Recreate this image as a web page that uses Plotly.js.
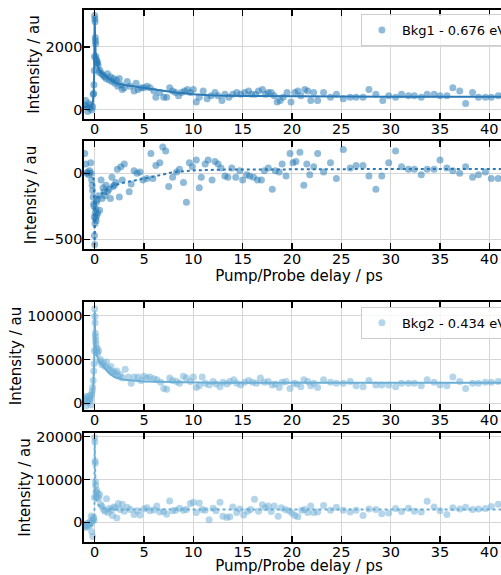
<!DOCTYPE html>
<html>
<head>
<meta charset="utf-8">
<script src="https://cdn.plot.ly/plotly-3.0.1.min.js"></script>
<style>html,body{margin:0;padding:0;overflow:hidden;background:#fff;}#chart{width:534px;height:575px;}</style>
</head>
<body>
<div id="chart"></div>
<script>
// ---- Panel 1: Bkg1 data ----
const bkg1X = [-1.0,-0.9,-0.8,-0.7,-0.6,-0.5,-0.4,-0.3,-0.2,-0.15,-0.1,-0.07,-0.04,-0.02,0.0,0.02,0.04,0.06,0.08,0.1,0.13,0.16,0.2,0.25,0.3,0.35,0.45,0.55,0.7,0.85,1.0,1.15,1.3,1.45,1.6,1.75,1.9,2.05,2.2,2.35,2.5,2.65,2.8,3.0,3.3,3.6,4.0,4.2,4.4,4.7,5.0,5.3,5.6,6.0,6.2,6.6,7.0,7.3,7.6,7.9,8.2,8.5,8.8,9.1,9.4,9.7,10.0,10.3,10.6,11.0,11.4,11.8,12.2,12.5,12.9,13.2,13.6,14.0,14.4,14.8,15.2,15.6,15.9,16.3,16.6,17.0,17.3,17.6,17.9,18.2,18.5,18.8,19.1,19.5,19.9,20.3,20.6,20.9,21.3,21.6,21.9,22.2,22.6,23.2,23.9,24.5,25.2,25.9,26.5,27.2,27.8,28.5,29.2,29.8,30.5,31.1,31.8,32.4,33.1,33.7,34.4,35.0,35.7,36.3,37.0,37.6,38.3,38.9,39.6,40.2,40.9,41.5];
const bkg1Y = [150,300,100,-50,200,50,150,0,100,500,520,800,1250,1700,3000,2900,2800,2300,2200,2100,1700,1600,1500,1550,1480,1400,1200,1250,1150,1100,1050,1000,1150,950,1050,900,1000,850,950,750,1000,800,650,700,900,750,600,850,650,700,700,750,700,600,400,550,400,400,700,600,550,450,550,600,650,550,650,250,400,600,350,450,550,450,300,500,400,500,550,500,550,600,500,500,600,650,500,550,550,450,250,300,400,550,250,550,600,450,650,600,300,550,300,550,400,500,350,400,400,400,650,500,300,450,400,500,450,450,400,500,500,450,450,700,600,200,550,400,400,400,450,500];
const fit1X = [-1.08,-0.5,-0.3,-0.2,-0.1,-0.05,0,0.05,0.1,0.2,0.3,0.5,0.75,1,1.5,2,3,4,5,6,8,10,12,15,20,25,30,40,42.5];
const fit1Y = [90,90,110,200,500,1200,2950,2200,1800,1500,1400,1250,1160,1100,980,870,790,740,700,650,560,500,460,440,425,422,420,420,420];

// ---- Panel 2: Bkg1 residual ----
const res1X = [-1.0,-0.9,-0.8,-0.7,-0.6,-0.5,-0.4,-0.35,-0.3,-0.25,-0.2,-0.15,-0.1,-0.07,-0.04,-0.02,0.0,0.03,0.06,0.09,0.12,0.15,0.18,0.22,0.26,0.3,0.4,0.5,0.65,0.75,0.85,0.95,1.05,1.15,1.3,1.45,1.6,1.75,1.85,2.0,2.15,2.3,2.5,2.65,2.8,3.0,3.5,3.7,4.0,4.3,4.6,4.9,5.3,5.7,5.9,6.2,6.6,6.9,7.2,7.5,7.9,8.3,8.6,9.0,9.3,9.6,9.9,10.3,10.6,10.8,11.2,11.5,11.9,12.2,12.5,12.8,13.2,13.5,13.9,14.3,14.7,15.0,15.4,15.7,16.1,16.5,16.9,17.2,17.6,18.0,18.3,18.7,19.0,19.4,19.8,20.1,20.4,20.8,21.2,21.5,21.8,22.2,22.6,23.2,23.9,24.5,25.2,25.9,26.5,27.2,27.8,28.5,29.1,29.8,30.5,31.1,31.8,32.4,33.1,33.7,34.4,35.0,35.7,36.3,37.0,37.6,38.3,38.9,39.6,40.2,40.9,41.5];
const res1Y = [150,70,0,10,-10,20,80,0,-50,-90,-130,-180,-230,-250,-330,-470,-540,-380,-300,-340,-270,-360,-220,-320,-200,-300,-170,-280,-50,-190,-110,-140,-170,-90,-140,-120,-190,-30,-100,-90,-70,30,-180,50,-50,70,-140,-80,20,0,10,-50,-40,150,-40,60,80,200,170,-100,-30,10,30,-70,-220,80,50,100,-110,-30,70,100,-50,90,70,40,-20,-30,40,-30,20,-50,-10,-20,-30,-50,-50,20,40,-120,20,10,70,-20,150,80,90,160,-90,70,-10,50,150,10,80,-40,180,40,60,60,-20,-120,-20,80,170,50,30,30,-10,30,30,100,40,20,0,50,-30,-10,10,-40,-40,-30];
const fit2X = [-1.08,-0.3,-0.15,-0.08,-0.04,0,0.03,0.06,0.1,0.3,0.6,1,1.5,2,3,4,5,6,8,10,13,20,30,42.5];
const fit2Y = [0,0,-20,-100,-300,-540,-380,-260,-210,-180,-160,-135,-110,-90,-70,-55,-45,-25,10,22,28,32,33,33];

// ---- Panel 3: Bkg2 data ----
const bkg2X = [-1.0,-0.95,-0.9,-0.85,-0.8,-0.7,-0.6,-0.5,-0.45,-0.4,-0.35,-0.3,-0.25,-0.2,-0.15,-0.1,-0.06,-0.03,0.0,0.02,0.04,0.06,0.08,0.1,0.13,0.16,0.2,0.25,0.3,0.4,0.5,0.6,0.75,0.9,1.05,1.2,1.35,1.5,1.65,1.8,1.95,2.1,2.25,2.4,2.6,2.8,3.1,3.4,3.7,4.0,4.4,4.7,5.0,5.3,5.6,6.0,6.3,6.7,7.0,7.3,7.6,7.9,8.3,8.6,9.0,9.3,9.7,10.0,10.3,10.6,10.9,11.2,11.6,12.0,12.3,12.7,13.0,13.4,13.7,14.1,14.4,14.8,15.2,15.6,16.0,16.4,16.8,17.2,17.6,18.0,18.3,18.7,19.0,19.4,19.8,20.2,20.5,20.9,21.2,21.6,21.9,22.2,22.6,23.2,23.9,24.5,25.2,25.9,26.5,27.2,27.8,28.5,29.1,29.8,30.5,31.1,31.8,32.4,33.1,33.7,34.4,35.0,35.7,36.3,37.0,37.6,38.3,38.9,39.6,40.2,40.9,41.5];
const bkg2Y = [2000,6000,-3000,8000,4000,1000,7000,3000,9000,5000,-2000,10000,14000,18000,26000,37000,45000,60000,108000,99000,92000,80000,76000,72000,68000,62000,58000,63000,57000,60000,48000,50000,44000,46000,42000,47000,40000,38000,42000,35000,36000,34000,37000,31000,33000,29000,39000,30000,23000,30000,30000,26000,31000,29000,30000,28000,27000,24000,17000,16000,29000,26000,25000,23000,31000,29000,25000,30000,18000,20000,30000,23000,21000,25000,22000,19000,24000,22000,25000,27000,23000,21000,24000,26000,24000,23000,29000,24000,25000,21000,22000,18000,24000,25000,17000,23000,22000,19000,27000,25000,20000,23000,18000,27000,24000,23000,23000,25000,20000,19000,26000,21000,21000,21000,19000,23000,23000,23000,20000,27000,24000,21000,20000,30000,25000,17000,23000,23000,24000,24000,25000,26000];
const fit3X = [-1.08,-0.5,-0.3,-0.15,-0.05,0,0.05,0.1,0.2,0.5,0.8,1,1.5,2,3,5,8,12,20,30,42.5];
const fit3Y = [1000,1500,5000,20000,45000,105000,80000,65000,55000,47000,43000,40000,34000,30000,27000,25000,24000,23500,23400,23400,23400];

// ---- Panel 4: Bkg2 residual ----
const res2X = [-1.0,-0.95,-0.9,-0.85,-0.8,-0.7,-0.6,-0.5,-0.45,-0.4,-0.35,-0.3,-0.25,-0.2,-0.15,-0.1,-0.06,-0.03,0.0,0.02,0.04,0.06,0.08,0.1,0.13,0.16,0.2,0.25,0.3,0.4,0.5,0.6,0.75,0.9,1.05,1.2,1.35,1.5,1.65,1.8,1.95,2.1,2.25,2.4,2.6,2.8,3.0,3.3,3.6,4.0,4.3,4.6,5.0,5.3,5.6,6.0,6.3,6.6,7.0,7.3,7.6,7.9,8.2,8.6,9.0,9.3,9.7,10.0,10.3,10.6,10.9,11.2,11.6,12.0,12.3,12.7,13.0,13.4,13.7,14.0,14.4,14.7,15.1,15.5,15.8,16.2,16.6,17.0,17.3,17.6,17.9,18.2,18.6,18.9,19.3,19.7,20.0,20.3,20.6,21.0,21.3,21.6,21.9,22.2,22.6,23.2,23.9,24.5,25.2,25.9,26.5,27.2,27.8,28.5,29.1,29.8,30.5,31.1,31.8,32.4,33.1,33.7,34.4,35.0,35.7,36.3,37.0,37.6,38.3,38.9,39.6,40.2,40.9,41.5];
const res2Y = [-1000,-600,-1200,-400,-800,-200,-900,-500,200,-300,1500,-2200,300,-3300,800,1200,500,5800,19800,18800,14300,13800,9500,8600,7000,6000,7500,5800,6800,5700,6500,4200,3700,3000,2600,5500,2300,3300,2900,1600,3600,3400,1000,4400,3000,4200,2600,3500,3000,1800,2700,1700,3100,3400,2700,2900,3800,2400,2500,1900,5000,2700,2800,3300,2800,3000,4400,4700,2300,4500,3000,2800,600,3300,2700,4700,1400,1100,1300,3600,2300,3100,1700,2600,3000,5400,2600,4100,3400,3800,2500,3800,1400,3400,3000,2700,2200,1600,1300,2800,3000,2300,3800,2300,2400,3900,2800,3500,2800,2400,2800,1600,3100,3000,2000,2200,3200,2500,3300,2600,2400,4900,3600,2700,1800,3400,3100,3500,3000,3100,3200,3700,4200,4100];
const fit4X = [-1.08,-0.2,-0.05,-0.02,0,0.03,0.06,0.1,0.2,0.4,0.7,1,2,5,20,42.5];
const fit4Y = [-700,-700,-500,2000,19500,12000,8000,6000,4800,4000,3500,3200,3000,3000,3000,3000];

const legendNames = ["Bkg1 - 0.676 eV", "Bkg2 - 0.434 eV"];
const xTickVals = [0,5,10,15,20,25,30,35,40];

const c1 = '#1f77b4', c1line = '#2a7ab8';
const c2 = '#6baed6', c2line = '#6baed6';

function pts(x, y, col, xa, ya, name, leg, show) {
  return {x: x, y: y, type: 'scatter', mode: 'markers', xaxis: xa, yaxis: ya,
    marker: {color: col, size: 7, opacity: 0.5, line: {width: 0}},
    name: name, showlegend: show, legend: leg, cliponaxis: true};
}
function fitl(x, y, col, xa, ya, dash) {
  return {x: x, y: y, type: 'scatter', mode: 'lines', xaxis: xa, yaxis: ya,
    line: {color: col, width: 2, dash: dash}, showlegend: false, hoverinfo: 'skip'};
}

const traces = [
  pts(bkg1X, bkg1Y, c1, 'x', 'y', legendNames[0], 'legend', true),
  fitl(fit1X, fit1Y, c1line, 'x', 'y', 'solid'),
  pts(res1X, res1Y, c1, 'x2', 'y2', 'res1', 'legend', false),
  fitl(fit2X, fit2Y, c1line, 'x2', 'y2', 'dot'),
  pts(bkg2X, bkg2Y, c2, 'x3', 'y3', legendNames[1], 'legend2', true),
  fitl(fit3X, fit3Y, c2line, 'x3', 'y3', 'solid'),
  pts(res2X, res2Y, c2, 'x4', 'y4', 'res2', 'legend', false),
  fitl(fit4X, fit4Y, c2line, 'x4', 'y4', 'dot')
];

const tickFont = {family: 'DejaVu Sans, sans-serif', size: 14.5, color: '#000'};
const titleFont = {family: 'DejaVu Sans, sans-serif', size: 15, color: '#000'};
function xax(anchor, title) {
  const a = {anchor: anchor, range: [-1.08, 42.5], tickvals: xTickVals, ticks: 'inside', ticklen: 6,
    tickwidth: 1.2, tickcolor: '#000', showline: true, linecolor: '#000', linewidth: 1.6, mirror: 'allticks',
    showgrid: true, gridcolor: '#d6d6d6', gridwidth: 1, zeroline: false, tickfont: tickFont, domain: [0, 1],
    ticklabelstandoff: -4};
  if (title) a.title = {text: title, font: titleFont, standoff: 3};
  return a;
}
function yax(anchor, dom, range, dtick) {
  return {anchor: anchor, domain: dom, range: range, dtick: dtick, tick0: 0, tickformat: 'd',
    ticks: 'inside', ticklen: 6, ticklabelstandoff: -3,
    tickwidth: 1.2, tickcolor: '#000', showline: true, linecolor: '#000', linewidth: 1.6, mirror: 'allticks',
    showgrid: true, gridcolor: '#d6d6d6', gridwidth: 1, zeroline: false, tickfont: tickFont,
    title: {text: 'Intensity / au', font: titleFont, standoff: 2}};
}

const layout = {
  width: 534, height: 575,
  margin: {l: 84, r: 20, t: 10, b: 33},
  paper_bgcolor: '#fff', plot_bgcolor: '#fff',
  font: tickFont,
  xaxis: xax('y', null),
  xaxis2: xax('y2', 'Pump/Probe delay / ps'),
  xaxis3: xax('y3', null),
  xaxis4: xax('y4', 'Pump/Probe delay / ps'),
  yaxis: yax('x', [0.7951, 1.0], [-290, 3175], 2000),
  yaxis2: yax('x2', [0.5508, 0.7538], [-573, 245], 500),
  yaxis3: yax('x3', [0.2481, 0.4511], [-7650, 115600], 50000),
  yaxis4: yax('x4', [0, 0.2049], [-4600, 20860], 10000),
  legend: {x: 0.644, xanchor: 'left', y: 0.9925, yanchor: 'top', bgcolor: 'rgba(255,255,255,0.8)',
    bordercolor: '#cccccc', borderwidth: 1, font: {family: 'DejaVu Sans, sans-serif', size: 13, color: '#000'}},
  legend2: {x: 0.644, xanchor: 'left', y: 0.4420, yanchor: 'top', bgcolor: 'rgba(255,255,255,0.8)',
    bordercolor: '#cccccc', borderwidth: 1, font: {family: 'DejaVu Sans, sans-serif', size: 13, color: '#000'}}
};

Plotly.newPlot('chart', traces, layout, {staticPlot: true, displayModeBar: false});
</script>
</body>
</html>
